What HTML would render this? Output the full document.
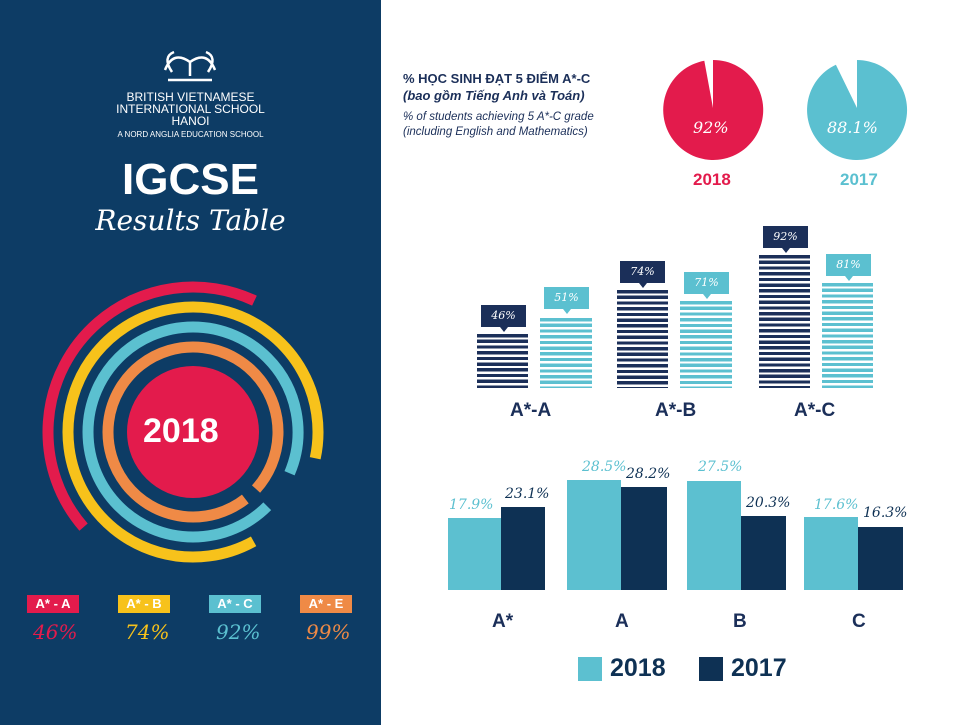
<!DOCTYPE html>
<html><head><meta charset="utf-8"><style>
body{margin:0;width:960px;height:725px;position:relative;background:#fff;font-family:"Liberation Sans","DejaVu Sans",sans-serif;overflow:hidden}
.left{position:absolute;left:0;top:0;width:381px;height:725px;background:#0d3c65}
.t{position:absolute;white-space:nowrap}
.hand{font-family:"DejaVu Serif","Liberation Serif",serif;font-style:italic}
.bar{position:absolute}
.sd{background:repeating-linear-gradient(to bottom,#1b2f59 0,#1b2f59 3.3px,#fff 3.3px,#fff 5.7px)}
.sl{background:repeating-linear-gradient(to bottom,#5cc0d0 0,#5cc0d0 3.3px,#fff 3.3px,#fff 5.7px)}
.box{position:absolute;color:#fff;font-size:11px;text-align:center;line-height:22px;height:22px}
.box:after{content:"";position:absolute;left:50%;margin-left:-4px;bottom:-5px;border-left:4px solid transparent;border-right:4px solid transparent;border-top:5px solid currentColor}
.tag{position:absolute;color:#fff;font-weight:bold;font-size:13px;text-align:center;height:18px;line-height:18px;width:52px}
</style></head><body>
<div class="left"></div>
<svg style="position:absolute;left:0;top:0" width="381" height="725">
<g fill="none" stroke="#fff" stroke-width="2.5"><path d="M165 70 q8 -20 25 -8 q17 -12 25 8 M172 72 q-10 -15 2 -20 M208 72 q10 -15 -2 -20 M190 62 v14 M168 80 h44"/></g>
<circle cx="193" cy="432" r="66" fill="#e31b4c"/>
<g fill="none" stroke-width="11">
<circle cx="193" cy="432" r="145" stroke="#e31b4c" stroke-dasharray="394.8 2000" transform="rotate(-221 193 432)"/>
<circle cx="193" cy="432" r="125" stroke="#f7c21b" stroke-dasharray="678.5 2000" transform="rotate(61 193 432)"/>
<circle cx="193" cy="432" r="105" stroke="#5bc0d0" stroke-dasharray="619.4 2000" transform="rotate(45 193 432)"/>
<circle cx="193" cy="432" r="85" stroke="#ef8a46" stroke-dasharray="519.2 2000" transform="rotate(52 193 432)"/>
</g>
</svg>
<div class="t" style="left:0;width:381px;text-align:center;top:91px;color:#fff;font-size:12px;line-height:12px">BRITISH VIETNAMESE<br>INTERNATIONAL SCHOOL<br>HANOI</div>
<div class="t" style="left:0;width:381px;text-align:center;top:130px;color:#fff;font-size:8px">A NORD ANGLIA EDUCATION SCHOOL</div>
<div class="t" style="left:0;width:381px;text-align:center;top:155px;color:#fff;font-size:44px;font-weight:bold">IGCSE</div>
<div class="t hand" style="left:0;width:381px;text-align:center;top:204px;color:#fff;font-size:28px">Results Table</div>
<div class="t" style="left:143px;top:412px;color:#fff;font-size:34px;font-weight:bold">2018</div>
<div class="tag" style="left:27px;top:595px;background:#e31b4c">A* - A</div>
<div class="tag" style="left:118px;top:595px;background:#f7c21b">A* - B</div>
<div class="tag" style="left:209px;top:595px;background:#5bc0d0">A* - C</div>
<div class="tag" style="left:300px;top:595px;background:#ef8a46">A* - E</div>
<div class="t hand" style="left:33px;top:620px;font-size:20px;color:#e31b4c">46%</div>
<div class="t hand" style="left:125px;top:620px;font-size:20px;color:#f7c21b">74%</div>
<div class="t hand" style="left:216px;top:620px;font-size:20px;color:#5bc0d0">92%</div>
<div class="t hand" style="left:306px;top:620px;font-size:20px;color:#ef8a46">99%</div>

<div class="t" style="left:403px;top:71px;font-size:13px;font-weight:bold;color:#1b2f59">% HỌC SINH ĐẠT 5 ĐIỂM A*-C</div>
<div class="t" style="left:403px;top:88px;font-size:13px;font-weight:bold;font-style:italic;color:#1b2f59">(bao gồm Tiếng Anh và Toán)</div>
<div class="t" style="left:403px;top:110px;font-size:11.5px;font-style:italic;color:#1b2f59;line-height:15px">% of students achieving 5 A*-C grade<br>(including English and Mathematics)</div>
<svg style="position:absolute;left:0;top:0" width="960" height="725">
<path d="M713 108 L713 60 A50 50 0 1 1 704.3 60.8 Z" fill="#e31b4c"/>
<path d="M857 108 L857 60 A50 50 0 1 1 835.9 64.7 Z" fill="#5bc0d0"/>
</svg>
<div class="t hand" style="left:693px;top:118px;color:#fff;font-size:16px">92%</div>
<div class="t hand" style="left:827px;top:118px;color:#fff;font-size:16px">88.1%</div>
<div class="t" style="left:693px;top:170px;color:#e31b4c;font-size:17px;font-weight:bold">2018</div>
<div class="t" style="left:840px;top:170px;color:#5bc0d0;font-size:17px;font-weight:bold">2017</div>

<div class="bar sd" style="left:477px;top:334px;width:51px;height:54px"></div>
<div class="bar sl" style="left:540px;top:318px;width:52px;height:70px"></div>
<div class="bar sd" style="left:617px;top:290px;width:51px;height:98px"></div>
<div class="bar sl" style="left:680px;top:301px;width:52px;height:87px"></div>
<div class="bar sd" style="left:759px;top:255px;width:51px;height:133px"></div>
<div class="bar sl" style="left:822px;top:283px;width:51px;height:105px"></div>
<div class="box hand" style="left:481px;top:305px;width:45px;background:#1b2f59;color:#1b2f59"><span style="color:#fff">46%</span></div>
<div class="box hand" style="left:544px;top:287px;width:45px;background:#5bc0d0;color:#5bc0d0"><span style="color:#fff">51%</span></div>
<div class="box hand" style="left:620px;top:261px;width:45px;background:#1b2f59;color:#1b2f59"><span style="color:#fff">74%</span></div>
<div class="box hand" style="left:684px;top:272px;width:45px;background:#5bc0d0;color:#5bc0d0"><span style="color:#fff">71%</span></div>
<div class="box hand" style="left:763px;top:226px;width:45px;background:#1b2f59;color:#1b2f59"><span style="color:#fff">92%</span></div>
<div class="box hand" style="left:826px;top:254px;width:45px;background:#5bc0d0;color:#5bc0d0"><span style="color:#fff">81%</span></div>
<div class="t" style="left:510px;top:400px;font-size:19px;font-weight:bold;color:#1b2f59">A*-A</div>
<div class="t" style="left:655px;top:400px;font-size:19px;font-weight:bold;color:#1b2f59">A*-B</div>
<div class="t" style="left:794px;top:400px;font-size:19px;font-weight:bold;color:#1b2f59">A*-C</div>

<div class="bar" style="left:448px;top:518px;width:53px;height:72px;background:#5cc0d0"></div>
<div class="bar" style="left:501px;top:507px;width:44px;height:83px;background:#0e3154"></div>
<div class="bar" style="left:567px;top:480px;width:54px;height:110px;background:#5cc0d0"></div>
<div class="bar" style="left:621px;top:487px;width:46px;height:103px;background:#0e3154"></div>
<div class="bar" style="left:687px;top:481px;width:54px;height:109px;background:#5cc0d0"></div>
<div class="bar" style="left:741px;top:516px;width:45px;height:74px;background:#0e3154"></div>
<div class="bar" style="left:804px;top:517px;width:54px;height:73px;background:#5cc0d0"></div>
<div class="bar" style="left:858px;top:527px;width:45px;height:63px;background:#0e3154"></div>
<div class="t hand" style="left:449px;top:497px;font-size:14px;color:#5cc0d0">17.9%</div>
<div class="t hand" style="left:505px;top:486px;font-size:14px;color:#0e3154">23.1%</div>
<div class="t hand" style="left:582px;top:459px;font-size:14px;color:#5cc0d0">28.5%</div>
<div class="t hand" style="left:626px;top:466px;font-size:14px;color:#0e3154">28.2%</div>
<div class="t hand" style="left:698px;top:459px;font-size:14px;color:#5cc0d0">27.5%</div>
<div class="t hand" style="left:746px;top:495px;font-size:14px;color:#0e3154">20.3%</div>
<div class="t hand" style="left:814px;top:497px;font-size:14px;color:#5cc0d0">17.6%</div>
<div class="t hand" style="left:863px;top:505px;font-size:14px;color:#0e3154">16.3%</div>
<div class="t" style="left:492px;top:611px;font-size:19px;font-weight:bold;color:#1b2f59">A*</div>
<div class="t" style="left:615px;top:611px;font-size:19px;font-weight:bold;color:#1b2f59">A</div>
<div class="t" style="left:733px;top:611px;font-size:19px;font-weight:bold;color:#1b2f59">B</div>
<div class="t" style="left:852px;top:611px;font-size:19px;font-weight:bold;color:#1b2f59">C</div>
<div class="bar" style="left:578px;top:657px;width:24px;height:24px;background:#5cc0d0"></div>
<div class="t" style="left:610px;top:654px;font-size:25px;font-weight:bold;color:#0e3154">2018</div>
<div class="bar" style="left:699px;top:657px;width:24px;height:24px;background:#0e3154"></div>
<div class="t" style="left:731px;top:654px;font-size:25px;font-weight:bold;color:#0e3154">2017</div>
</body></html>
